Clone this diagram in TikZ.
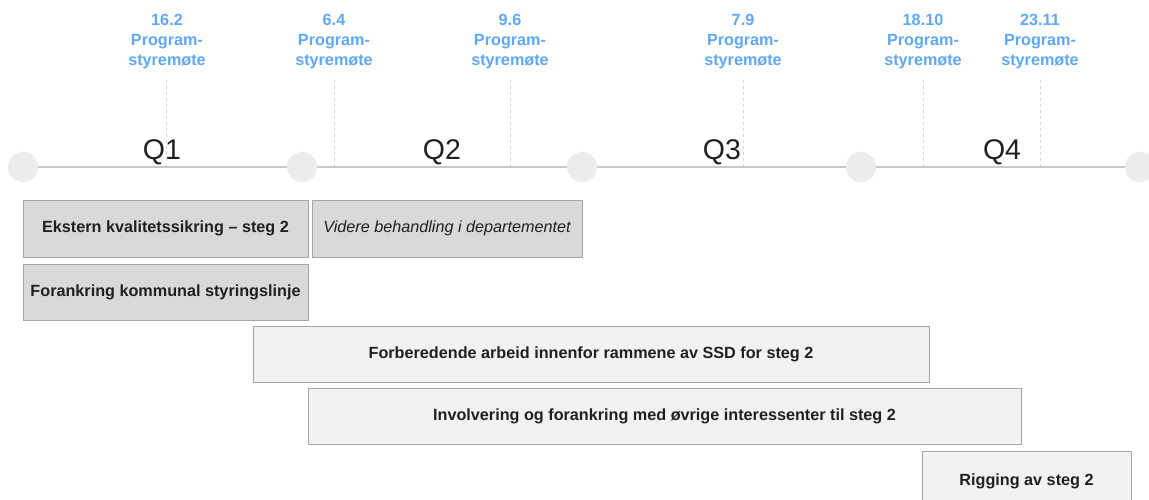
\documentclass[tikz,border=0pt]{standalone}
\usepackage{fontspec}
\setmainfont{Liberation Sans}
\definecolor{tlblue}{RGB}{96,168,246}
\definecolor{tltext}{RGB}{35,31,32}
\definecolor{tlline}{RGB}{200,200,200}
\definecolor{tldot}{RGB}{236,236,236}
\definecolor{tldash}{RGB}{215,215,215}
\definecolor{boxdarkfill}{RGB}{217,217,217}
\definecolor{boxlightfill}{RGB}{242,242,242}
\definecolor{boxedge}{RGB}{166,166,166}
\begin{document}
\begin{tikzpicture}[x=1pt,y=-1pt,
  dot/.style={circle,fill=tldot,minimum size=30pt,inner sep=0pt},
  qlab/.style={font=\fontsize{28.5}{30}\selectfont,text=tltext,inner sep=0pt},
  meet/.style={font=\fontsize{16.2}{20}\selectfont\bfseries,text=tlblue,align=center,inner sep=0pt},
  mdash/.style={tldash,dashed,line width=0.8pt},
  boxdark/.style={draw=boxedge,fill=boxdarkfill,line width=0.8pt,inner sep=0pt,text=tltext,font=\fontsize{16.2}{18}\selectfont\bfseries},
  boxlight/.style={draw=boxedge,fill=boxlightfill,line width=0.8pt,inner sep=0pt,text=tltext,font=\fontsize{16.2}{18}\selectfont\bfseries}
]
\useasboundingbox (0,0) rectangle (1149,500);
\fill[white] (0,0) rectangle (1149,500);

% timeline
\node[dot] (c1) at (23,167) {};
\node[dot] (c2) at (302,167) {};
\node[dot] (c3) at (582,167) {};
\node[dot] (c4) at (861,167) {};
\node[dot] (c5) at (1140,167) {};
\draw[tlline,line width=1.3pt] (c1.east) -- (c2.west);
\draw[tlline,line width=1.3pt] (c2.east) -- (c3.west);
\draw[tlline,line width=1.3pt] (c3.east) -- (c4.west);
\draw[tlline,line width=1.3pt] (c4.east) -- (c5.west);

% meetings: dashed lines
\foreach \n/\x in {m1/166,m2/334,m3/510,m4/743,m5/923,m6/1040}{
  \coordinate (\n top) at (\x,80);
  \coordinate (\n bot) at (\x,166);
  \draw[mdash] (\n top) -- (\n bot);
}

% quarter labels
\node[qlab] (q1) at (162,152) {Q1};
\node[qlab] (q2) at (442,152) {Q2};
\node[qlab] (q3) at (722,152) {Q3};
\node[qlab] (q4) at (1002,152) {Q4};

% meeting labels
\node[meet,anchor=north] (l1) at (167,14) {16.2\\Program-\\styremøte};
\node[meet,anchor=north] (l2) at (334,14) {6.4\\Program-\\styremøte};
\node[meet,anchor=north] (l3) at (510,14) {9.6\\Program-\\styremøte};
\node[meet,anchor=north] (l4) at (743,14) {7.9\\Program-\\styremøte};
\node[meet,anchor=north] (l5) at (923,14) {18.10\\Program-\\styremøte};
\node[meet,anchor=north] (l6) at (1040,14) {23.11\\Program-\\styremøte};

% activity boxes
\node[boxdark,minimum width=285pt,minimum height=57pt] (b1) at (165.5,228.5) {\raisebox{-1.5pt}{Ekstern kvalitetssikring – steg 2}};
\node[boxdark,minimum width=270pt,minimum height=57pt,font=\fontsize{16.2}{18}\selectfont\itshape] (b2) at (447,228.5) {\raisebox{-1.5pt}{Videre behandling i departementet}};
\node[boxdark,minimum width=285pt,minimum height=56pt] (b3) at (165.5,292) {\raisebox{-1.5pt}{Forankring kommunal styringslinje}};
\node[boxlight,minimum width=676pt,minimum height=56pt] (b4) at (591,354) {\raisebox{-1.5pt}{Forberedende arbeid innenfor rammene av SSD for steg 2}};
\node[boxlight,minimum width=713pt,minimum height=56pt] (b5) at (664.5,416) {\raisebox{-1.5pt}{Involvering og forankring med øvrige interessenter til steg 2}};
\node[boxlight,minimum width=209pt,minimum height=60pt] (b6) at (1026.5,481) {\raisebox{-1.5pt}{Rigging av steg 2}};
\end{tikzpicture}
\end{document}
